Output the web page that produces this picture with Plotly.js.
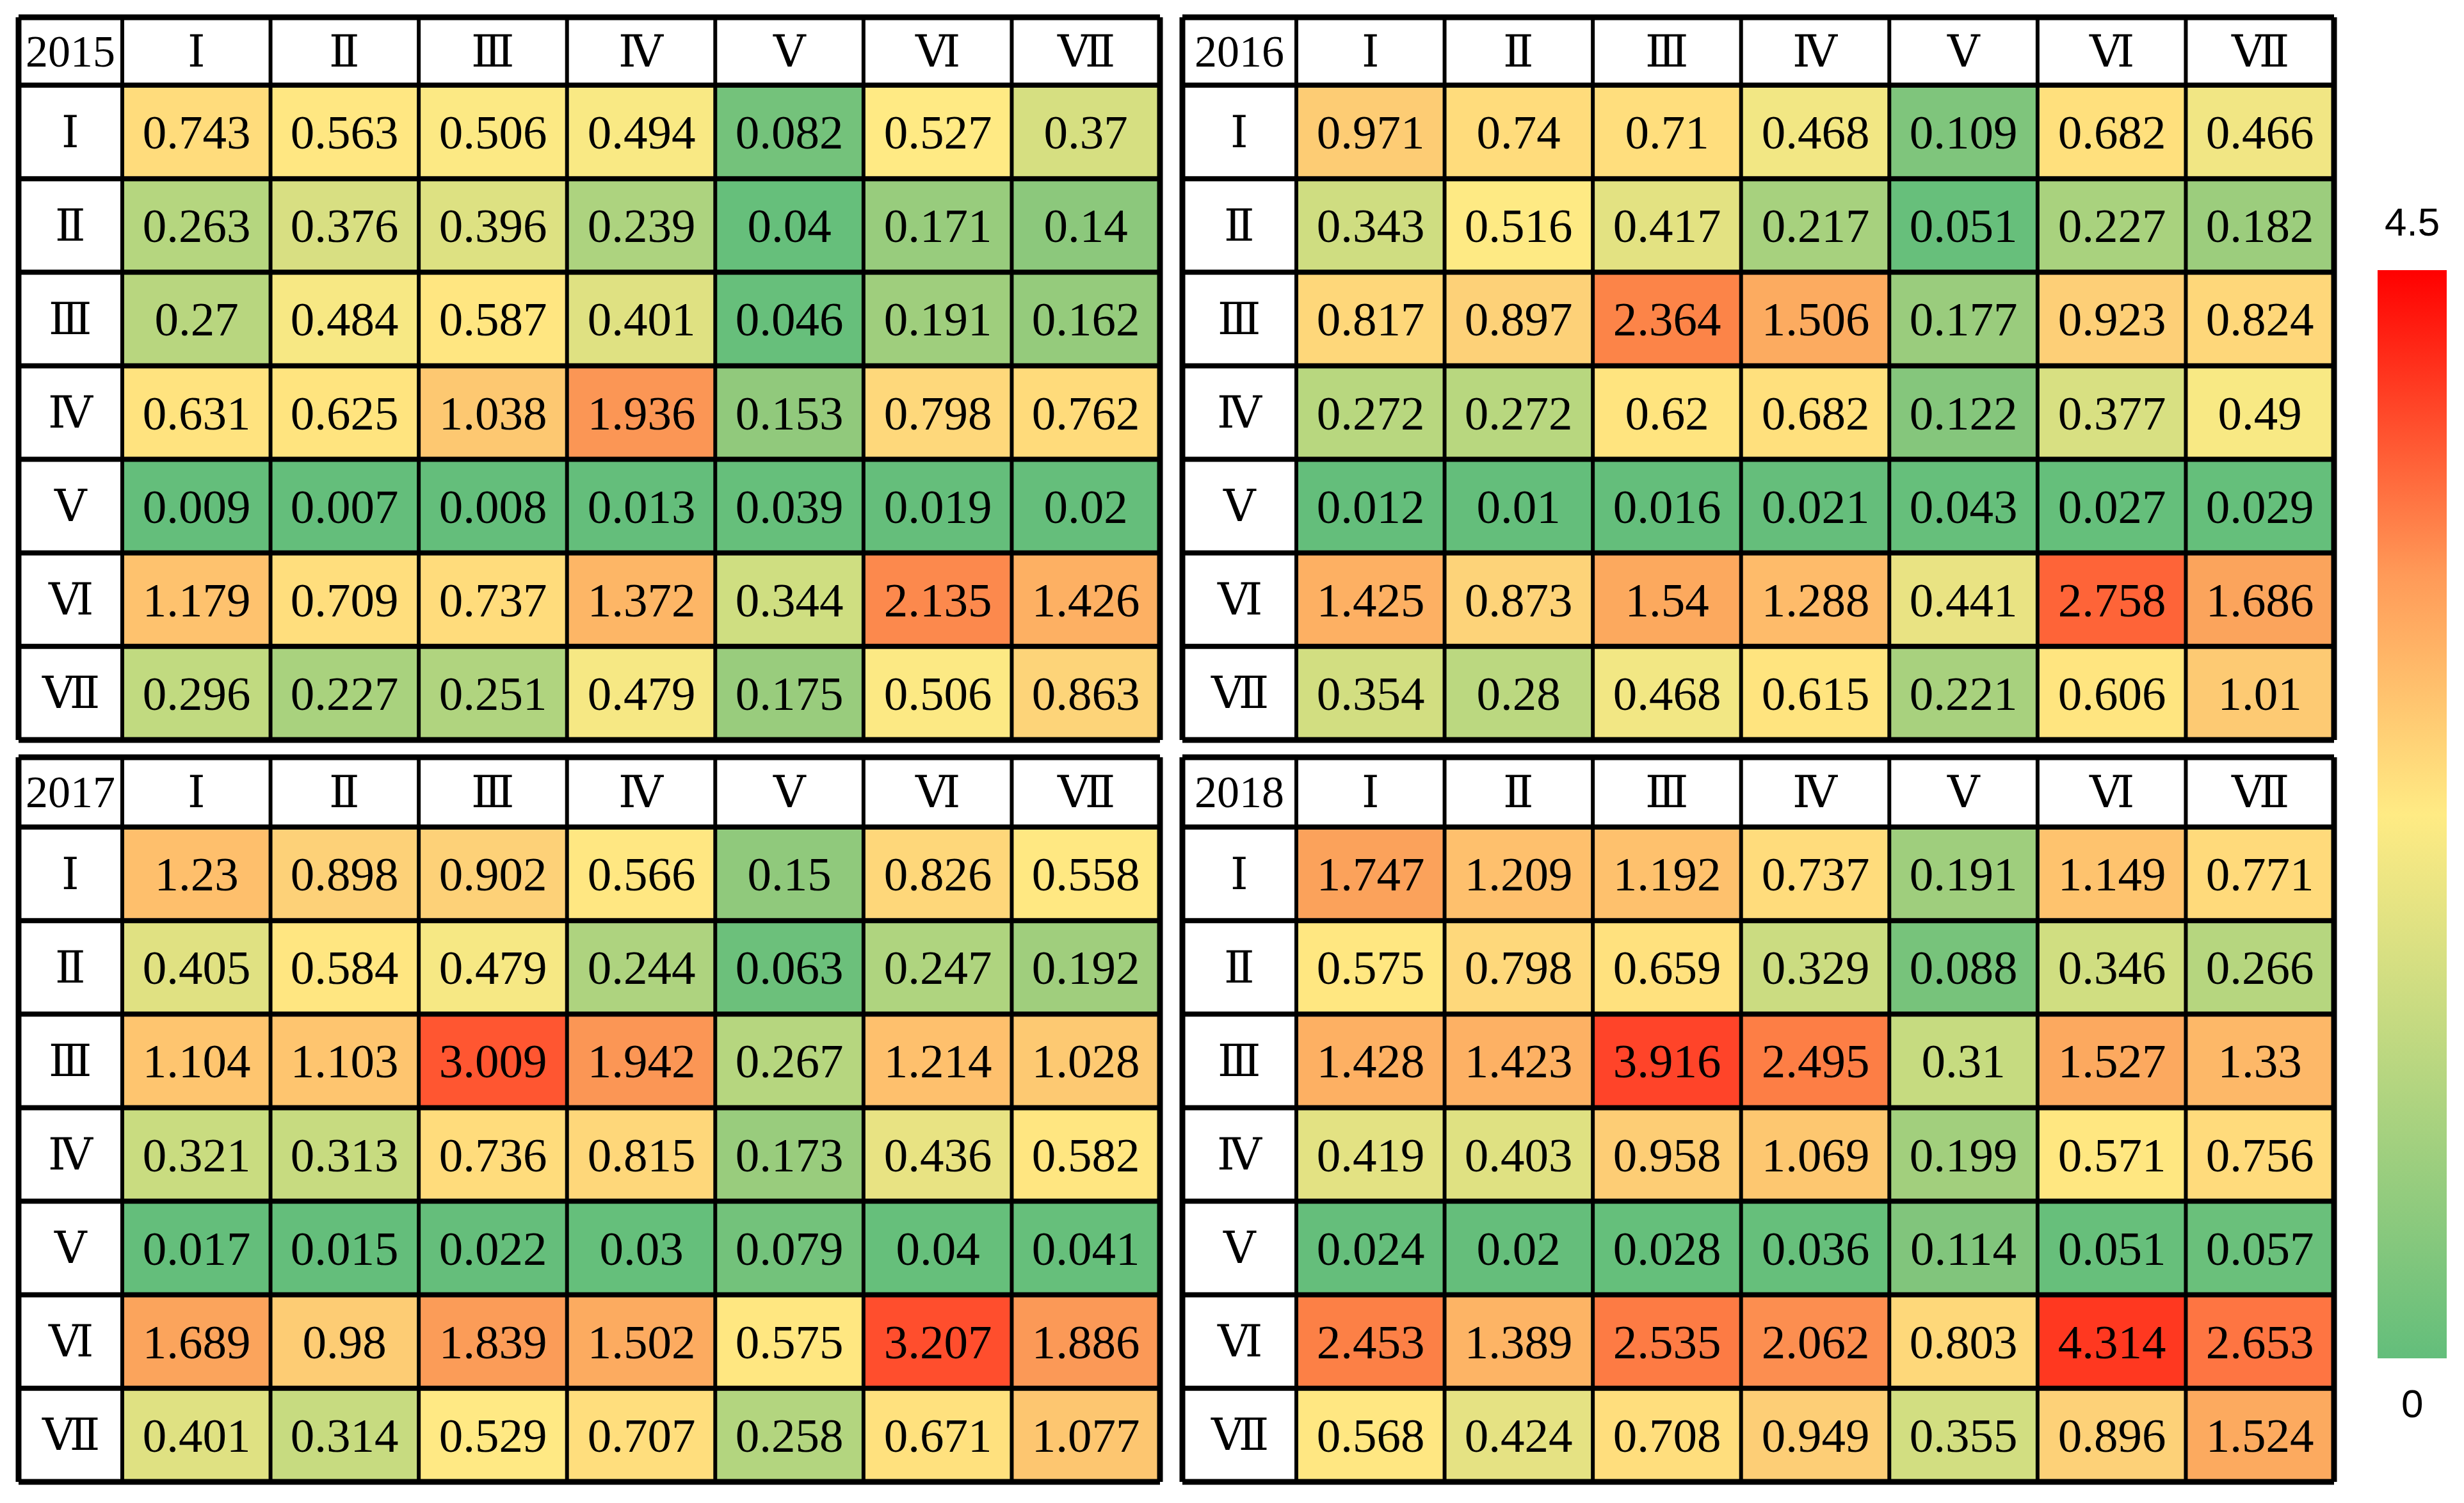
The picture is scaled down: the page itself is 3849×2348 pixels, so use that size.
<!DOCTYPE html>
<html><head><meta charset="utf-8">
<script src="https://cdn.plot.ly/plotly-3.0.1.min.js"></script>
<style>html,body{margin:0;padding:0;background:#fff;}#chart{width:3849px;height:2348px;}</style>
</head><body><div id="chart"></div>
<script>
// ---------- data ----------
const years = ['2015', '2016', '2017', '2018'];
const rowLabels = ['Ⅰ', 'Ⅱ', 'Ⅲ', 'Ⅳ', 'Ⅴ', 'Ⅵ', 'Ⅶ'];
const colLabels = ['Ⅰ', 'Ⅱ', 'Ⅲ', 'Ⅳ', 'Ⅴ', 'Ⅵ', 'Ⅶ'];

const v2015 = [
  [0.743, 0.563, 0.506, 0.494, 0.082, 0.527, 0.37],
  [0.263, 0.376, 0.396, 0.239, 0.04, 0.171, 0.14],
  [0.27, 0.484, 0.587, 0.401, 0.046, 0.191, 0.162],
  [0.631, 0.625, 1.038, 1.936, 0.153, 0.798, 0.762],
  [0.009, 0.007, 0.008, 0.013, 0.039, 0.019, 0.02],
  [1.179, 0.709, 0.737, 1.372, 0.344, 2.135, 1.426],
  [0.296, 0.227, 0.251, 0.479, 0.175, 0.506, 0.863]
];
const v2016 = [
  [0.971, 0.74, 0.71, 0.468, 0.109, 0.682, 0.466],
  [0.343, 0.516, 0.417, 0.217, 0.051, 0.227, 0.182],
  [0.817, 0.897, 2.364, 1.506, 0.177, 0.923, 0.824],
  [0.272, 0.272, 0.62, 0.682, 0.122, 0.377, 0.49],
  [0.012, 0.01, 0.016, 0.021, 0.043, 0.027, 0.029],
  [1.425, 0.873, 1.54, 1.288, 0.441, 2.758, 1.686],
  [0.354, 0.28, 0.468, 0.615, 0.221, 0.606, 1.01]
];
const v2017 = [
  [1.23, 0.898, 0.902, 0.566, 0.15, 0.826, 0.558],
  [0.405, 0.584, 0.479, 0.244, 0.063, 0.247, 0.192],
  [1.104, 1.103, 3.009, 1.942, 0.267, 1.214, 1.028],
  [0.321, 0.313, 0.736, 0.815, 0.173, 0.436, 0.582],
  [0.017, 0.015, 0.022, 0.03, 0.079, 0.04, 0.041],
  [1.689, 0.98, 1.839, 1.502, 0.575, 3.207, 1.886],
  [0.401, 0.314, 0.529, 0.707, 0.258, 0.671, 1.077]
];
const v2018 = [
  [1.747, 1.209, 1.192, 0.737, 0.191, 1.149, 0.771],
  [0.575, 0.798, 0.659, 0.329, 0.088, 0.346, 0.266],
  [1.428, 1.423, 3.916, 2.495, 0.31, 1.527, 1.33],
  [0.419, 0.403, 0.958, 1.069, 0.199, 0.571, 0.756],
  [0.024, 0.02, 0.028, 0.036, 0.114, 0.051, 0.057],
  [2.453, 1.389, 2.535, 2.062, 0.803, 4.314, 2.653],
  [0.568, 0.424, 0.708, 0.949, 0.355, 0.896, 1.524]
];
const tables = [v2015, v2016, v2017, v2018];
const scaleMin = 0;
const scaleMax = 4.5;

// ---------- styling ----------
const W = 3849, H = 2348;
const cellStops = [
  [0, '#63BE7B'], [0.05, '#67BF7B'], [0.15, '#90C97C'], [0.19, '#9FCE7D'],
  [0.25, '#B0D47F'], [0.30, '#C3DA80'], [0.35, '#D1DE81'], [0.44, '#E9E383'],
  [0.48, '#F6E884'], [0.52, '#FFEA84'], [0.62, '#FFE47F'], [0.74, '#FFDC7C'],
  [0.82, '#FED77A'], [0.9, '#FDD178'], [1.02, '#FDC972'], [1.15, '#FEC36E'],
  [1.21, '#FEC06D'], [1.38, '#FDB566'], [1.45, '#FDAE62'], [1.55, '#FCA85E'],
  [1.75, '#FBA25B'], [1.95, '#FB9555'], [2.14, '#FC894D'], [2.4, '#FC8347'],
  [2.65, '#FE7542'], [2.76, '#FE6438'], [3.0, '#FF5631'], [3.3, '#FF4A2B'],
  [3.9, '#FF4529'], [4.31, '#FF3820'], [4.5, '#FF2A18']
];
const cellScale = cellStops.map(s => [(s[0] - scaleMin) / (scaleMax - scaleMin), s[1]]);
const legendScale = [[0, '#63BE7B'], [0.25, '#B3D580'], [0.5, '#FFEB84'], [0.72, '#FF9A58'], [1, '#FF0000']];

// panel pixel boxes
const panels = [
  {l: 29,   r: 1812, t: 27,   b: 1156, hc: 162, hh: 106},
  {l: 1847, r: 3646, t: 27,   b: 1156, hc: 178, hh: 106},
  {l: 29,   r: 1812, t: 1183, b: 2315, hc: 162, hh: 109},
  {l: 1847, r: 3646, t: 1183, b: 2315, hc: 178, hh: 109}
];
const pad = 8;
const serif = 'Liberation Serif, DejaVu Serif, serif';

const traces = [];
const layout = {
  width: W, height: H,
  margin: {l: 0, r: 0, t: 0, b: 0, pad: 0},
  paper_bgcolor: '#ffffff', plot_bgcolor: '#ffffff',
  showlegend: false,
  shapes: [], annotations: [],
  coloraxis: {cmin: scaleMin, cmax: scaleMax, colorscale: cellScale, showscale: false},
  coloraxis2: {
    cmin: scaleMin, cmax: scaleMax, colorscale: legendScale, showscale: true,
    colorbar: {
      x: 3714 / W, xanchor: 'left', thickness: 108, thicknessmode: 'pixels',
      len: (2122 - 422) / H, lenmode: 'fraction', y: 1 - (2122 + 422) / 2 / H, yanchor: 'middle',
      xpad: 0, ypad: 0, outlinewidth: 0, showticklabels: false, ticks: ''
    }
  }
};

const nR = rowLabels.length, nC = colLabels.length;

panels.forEach((p, k) => {
  const sfx = k === 0 ? '' : String(k + 1);
  const colPx = (p.r - p.l - p.hc) / nC;
  const rowPx = (p.b - p.t - p.hh) / nR;
  const hcU = p.hc / colPx, hrU = p.hh / rowPx;
  const x0 = -0.5 - hcU, x1 = nC - 0.5;
  const y0 = -0.5 - hrU, y1 = nR - 0.5;
  layout['xaxis' + sfx] = {
    domain: [(p.l - pad) / W, (p.r + pad) / W],
    range: [x0 - pad / colPx, x1 + pad / colPx],
    showgrid: false, zeroline: false, showticklabels: false, ticks: '', showline: false, fixedrange: true
  };
  layout['yaxis' + sfx] = {
    domain: [1 - (p.b + pad) / H, 1 - (p.t - pad) / H],
    range: [y1 + pad / rowPx, y0 - pad / rowPx],
    showgrid: false, zeroline: false, showticklabels: false, ticks: '', showline: false, fixedrange: true
  };
  const z = tables[k];
  if (k === 3) {
    traces.push({
      type: 'heatmap', z: z, xaxis: 'x' + sfx, yaxis: 'y' + sfx,
      coloraxis: 'coloraxis2', opacity: 0, hoverinfo: 'skip'
    });
  }
  traces.push({
    type: 'heatmap', z: z, xaxis: 'x' + sfx, yaxis: 'y' + sfx,
    coloraxis: 'coloraxis',
    text: z.map(row => row.map(v => String(v))),
    texttemplate: '%{text}',
    textfont: {family: serif, size: 75, color: '#000000'},
    hoverinfo: 'skip'
  });
  const xr = 'x' + sfx, yr = 'y' + sfx;
  // vertical lines
  const vx = [x0, -0.5];
  for (let j = 0; j < nC; j++) vx.push(j + 0.5);
  vx.forEach((xv, i) => {
    const outer = (i === 0 || i === vx.length - 1);
    layout.shapes.push({type: 'line', xref: xr, yref: yr, x0: xv, x1: xv, y0: y0, y1: y1,
      line: {color: '#000000', width: outer ? 9 : 6}});
  });
  const hy = [y0, -0.5];
  for (let i = 0; i < nR; i++) hy.push(i + 0.5);
  hy.forEach((yv, i) => {
    const outer = (i === 0 || i === hy.length - 1);
    layout.shapes.push({type: 'line', xref: xr, yref: yr, x0: x0, x1: x1, y0: yv, y1: yv,
      line: {color: '#000000', width: outer ? 9 : 8}});
  });
  // header texts
  const hf = {family: serif, size: 70, color: '#000000'};
  layout.annotations.push({xref: xr, yref: yr, x: -0.5 - hcU / 2, y: -0.5 - hrU / 2,
    text: years[k], showarrow: false, font: hf, xanchor: 'center', yanchor: 'middle'});
  colLabels.forEach((c, j) => layout.annotations.push({xref: xr, yref: yr, x: j, y: -0.5 - hrU / 2,
    text: c, showarrow: false, font: hf, xanchor: 'center', yanchor: 'middle'}));
  rowLabels.forEach((c, i) => layout.annotations.push({xref: xr, yref: yr, x: -0.5 - hcU / 2, y: i,
    text: c, showarrow: false, font: hf, xanchor: 'center', yanchor: 'middle'}));
});

// colorbar end labels
const cbFont = {family: 'Liberation Sans, Arial, sans-serif', size: 62, color: '#000000'};
layout.annotations.push({xref: 'paper', yref: 'paper', x: 3768 / W, y: 1 - 346 / H,
  text: String(scaleMax), showarrow: false, font: cbFont, xanchor: 'center', yanchor: 'middle'});
layout.annotations.push({xref: 'paper', yref: 'paper', x: 3768 / W, y: 1 - 2192 / H,
  text: String(scaleMin), showarrow: false, font: cbFont, xanchor: 'center', yanchor: 'middle'});

Plotly.newPlot('chart', traces, layout, {staticPlot: true, displayModeBar: false});
</script>
</body></html>
